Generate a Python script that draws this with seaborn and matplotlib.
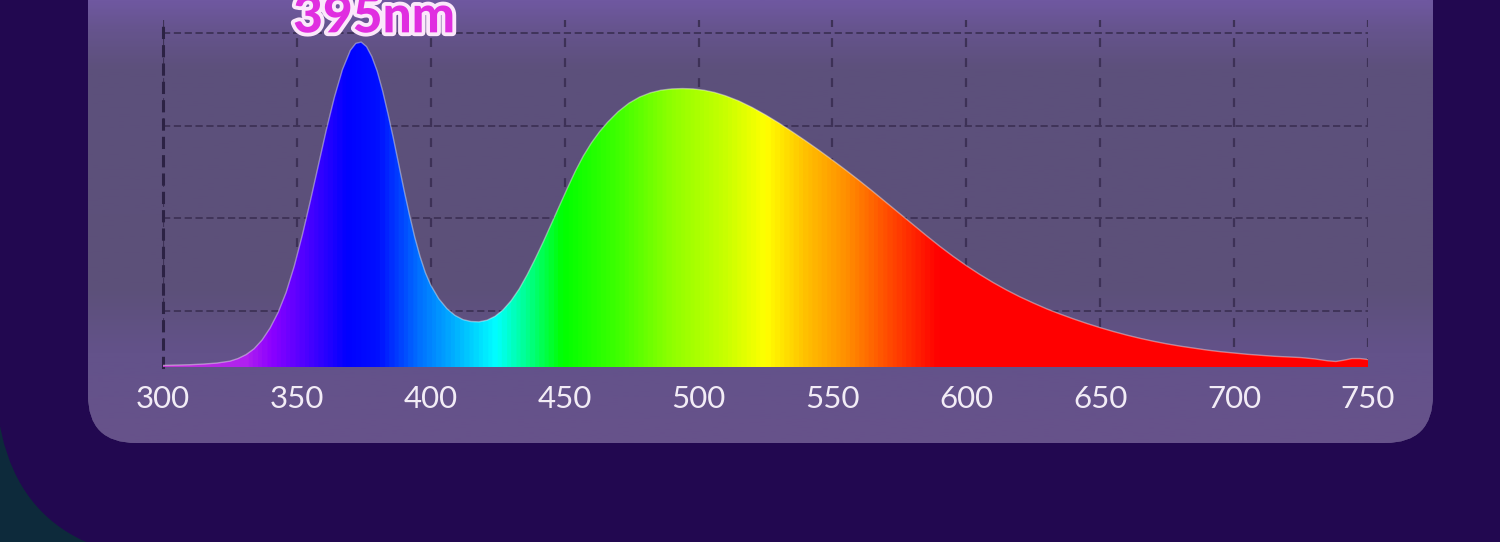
import matplotlib
matplotlib.use("Agg")
import matplotlib.pyplot as plt
import matplotlib.patheffects as pe
from matplotlib.colors import LinearSegmentedColormap
from matplotlib.patches import FancyBboxPatch
import seaborn as sns
import pandas as pd
import numpy as np

sns.set_theme(style="white")
plt.rcParams['font.family'] = ['Lato', 'DejaVu Sans']

# Spectrum (relative intensity, peak = 100)
wavelength = [300, 305, 310, 315, 320, 325, 328, 331, 334, 337, 340, 343, 346, 349,
              352, 355, 358, 361, 364, 367, 370, 372, 374, 376, 378, 380, 382, 384,
              386, 388, 390, 392, 394, 396, 398, 400, 403, 406, 409, 412, 415, 418,
              421, 424, 427, 430, 433, 436, 439, 442, 445, 448, 451, 454, 457, 460,
              463, 466, 470, 474, 478, 482, 486, 490, 494, 498, 502, 506, 510, 515,
              520, 525, 530, 535, 540, 545, 550, 555, 560, 565, 570, 575, 580, 585,
              590, 595, 600, 605, 610, 615, 620, 625, 630, 635, 640, 645, 650, 655,
              660, 665, 670, 675, 680, 685, 690, 695, 700, 705, 710, 715, 720, 725,
              730, 735, 738, 741, 744, 747, 750]
intensity = [0.5, 0.6, 0.7, 0.9, 1.2, 1.8, 2.6, 3.8, 5.6, 8.3, 12, 16.8, 23, 31,
             40.5, 51, 62, 73, 83, 91.5, 97.5, 99.6, 100, 98.6, 95.5, 91, 85, 78,
             70.5, 62.5, 54.5, 47, 40, 34, 29, 25.2, 21, 18, 15.9, 14.6, 14, 13.9,
             14.4, 15.6, 17.6, 20.4, 24, 28.4, 33.3, 38.5, 44, 49.5, 55, 60.3, 65, 69,
             72.4, 75.3, 78.6, 81.2, 83.1, 84.4, 85.2, 85.6, 85.7, 85.6, 85.2, 84.5, 83.5, 81.9,
             79.9, 77.6, 75.1, 72.4, 69.6, 66.7, 63.7, 60.6, 57.4, 54.1, 50.7, 47.3, 43.9, 40.5,
             37.2, 34.1, 31.2, 28.5, 26, 23.7, 21.6, 19.7, 17.9, 16.3, 14.8, 13.4, 12.1, 10.9,
             9.8, 8.8, 7.9, 7.1, 6.4, 5.8, 5.2, 4.7, 4.3, 3.9, 3.6, 3.3, 3.1, 2.9,
             2.5, 1.9, 1.7, 2.1, 2.6, 2.6, 2.3]
x_ticks = [300, 350, 400, 450, 500, 550, 600, 650, 700, 750]
grid_levels = [17.2, 45.8, 74.2, 102.8]
peak_label = "395nm"

# wavelength -> colour stops for the rainbow fill
stop_wl = [300, 330, 340, 352, 368, 380, 395, 410, 424, 437, 449, 470, 490, 510,
           525, 540, 555, 570, 590, 750]
stop_col = ["#c03ad0", "#b020f0", "#8a00ff", "#5000ff", "#0000ff", "#0010ff", "#0070ff",
            "#00b8ff", "#00ffff", "#00ff80", "#00ff00", "#40ff00", "#90ff00", "#c8ff00",
            "#ffff00", "#ffc000", "#ff9000", "#ff5000", "#ff0000", "#ff0000"]
spectrum_cmap = LinearSegmentedColormap.from_list(
    "spectrum", [((w - 300) / 450, c) for w, c in zip(stop_wl, stop_col)])

df = pd.DataFrame({"wavelength": wavelength, "intensity": intensity})

W, H = 1500, 542
fig = plt.figure(figsize=(15, 5.42), dpi=100)
fig.patch.set_facecolor("#0d2a3b")

# background layer in pixel coordinates
bg = fig.add_axes([0, 0, 1, 1], zorder=0)
bg.set_xlim(0, W)
bg.set_ylim(H, 0)
bg.axis("off")
dark = FancyBboxPatch((-5, -300), 1800, 860, boxstyle="round,pad=0,rounding_size=190",
                      facecolor="#220850", edgecolor="none")
bg.add_patch(dark)
panel = FancyBboxPatch((88, -60), 1345, 503, boxstyle="round,pad=0,rounding_size=48",
                       facecolor="#5e517f", edgecolor="none")
bg.add_patch(panel)
# vertical shading of the panel: soft glow at the top
panel_cmap = LinearSegmentedColormap.from_list(
    "panel", [(0, "#6f58a0"), (0.06, "#66548e"), (0.15, "#5d507c"), (0.65, "#5c5079"),
              (0.8, "#63528a"), (1, "#67528b")])
grad = np.linspace(0, 1, 200).reshape(-1, 1)
im_bg = bg.imshow(grad, extent=[88, 1433, 443, 0], aspect="auto", cmap=panel_cmap,
                  origin="upper", zorder=1)
im_bg.set_clip_path(panel)
bg.set_xlim(0, W)
bg.set_ylim(H, 0)

# main chart
ax = fig.add_axes([163 / W, (H - 367) / H, 1205 / W, 347 / H], zorder=2)
ax.patch.set_alpha(0)
ymax = 106.8

poly = ax.fill_between(df["wavelength"], df["intensity"], 0, color="none", lw=0)
xs = np.linspace(0, 1, 900).reshape(1, -1)
im = ax.imshow(xs, extent=[300, 750, 0, ymax], aspect="auto", cmap=spectrum_cmap,
               origin="lower", zorder=3)
im.set_clip_path(poly.get_paths()[0], transform=ax.transData)
sns.lineplot(data=df, x="wavelength", y="intensity", ax=ax, color="white",
             linewidth=1.0, alpha=0.4, zorder=4)

ax.set_xlim(300, 750)
ax.set_ylim(0, ymax)
ax.set_xticks(x_ticks)
ax.set_xticklabels([str(t) for t in x_ticks])
ax.set_yticks(grid_levels)
ax.set_yticklabels([])
ax.set_xlabel("")
ax.set_ylabel("")
ax.tick_params(axis="x", length=0, pad=13, labelsize=22.5, labelcolor="#f2ecf6")
ax.tick_params(axis="y", length=0)
ax.grid(True, axis="y", color="#3d3156", linestyle=(0, (4, 2)), linewidth=1.3, zorder=1)
ax.grid(True, axis="x", color="#3d3156", linestyle=(0, (4, 5)), linewidth=1.6, zorder=1)
for s in ["top", "right", "bottom"]:
    ax.spines[s].set_visible(False)
ax.spines["left"].set_color("#2c2244")
ax.spines["left"].set_linewidth(2.2)
ax.spines["left"].set_linestyle((0, (3, 3)))

ax.text(378.8, 103.0, peak_label, ha="center", va="baseline", fontsize=37,
        fontweight="black", color="#e02ee0", clip_on=False, zorder=6,
        path_effects=[pe.withStroke(linewidth=5.5, foreground="#fbe8fb")])

fig.savefig("out.png", dpi=100, facecolor=fig.get_facecolor())
